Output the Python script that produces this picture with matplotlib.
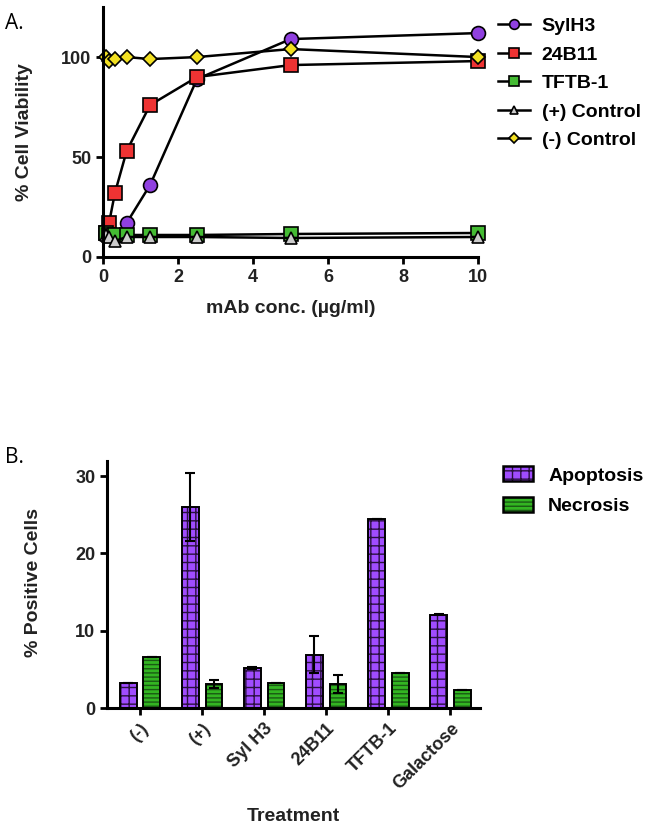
import matplotlib
matplotlib.use("Agg")
import matplotlib.pyplot as plt
import numpy as np
from matplotlib.lines import Line2D
from matplotlib.patches import Patch

# ---- Data -------------------------------------------------------------

conc = [0.078, 0.156, 0.3125, 0.625, 1.25, 2.5, 5, 10]
sylh3 = [11, 11, 10, 17, 36, 89, 109, 112]
ab24b11 = [12, 17, 32, 53, 76, 90, 96, 98]
tftb1 = [12, 11, 11, 11, 11, 11, 11.5, 12]
pos_ctrl = [11, 10, 8, 10, 10, 10, 9.5, 10]
neg_ctrl = [100, 98, 99, 100, 99, 100, 104, 100]

treatments = ["(-)", "(+)", "Syl H3", "24B11", "TFTB-1", "Galactose"]
apoptosis = [3.2, 26.0, 5.2, 6.9, 24.4, 12.1]
apoptosis_err = [0, 4.4, 0.1, 2.4, 0, 0.1]
necrosis = [6.6, 3.1, 3.3, 3.1, 4.5, 2.3]
necrosis_err = [0, 0.5, 0, 1.2, 0, 0]

# ---- Style ------------------------------------------------------------

DARK = "#222222"
PURPLE = "#a04cff"
GREEN = "#33b522"
plt.rcParams.update({
    "font.family": ["Liberation Sans", "DejaVu Sans"],
    "font.weight": "bold",
    "font.size": 14,
    "axes.labelweight": "bold",
    "axes.linewidth": 2.2,
    "axes.edgecolor": "black",
    "xtick.major.width": 2.0,
    "ytick.major.width": 2.0,
    "xtick.major.size": 5,
    "ytick.major.size": 5,
    "xtick.labelsize": 13,
    "ytick.labelsize": 13,
    "xtick.color": "black",
    "ytick.color": "black",
    "xtick.labelcolor": DARK,
    "ytick.labelcolor": DARK,
    "hatch.linewidth": 1.0,
})

fig = plt.figure(figsize=(6.49, 8.33), dpi=100)

# ---- Panel A ----------------------------------------------------------

axA = fig.add_axes([0.159, 0.6915, 0.578, 0.300])
series = [
    ("SylH3", sylh3, "o", "#9040e0", 10),
    ("24B11", ab24b11, "s", "#ee3333", 9.5),
    ("TFTB-1", tftb1, "s", "#44bb33", 9.5),
    ("(+) Control", pos_ctrl, "^", "#cccccc", 9),
    ("(-) Control", neg_ctrl, "D", "#f2e022", 7),
]
handles = []
for name, vals, mk, col, ms in series:
    axA.plot(conc, vals, color="black", linewidth=1.8, marker=mk,
             markersize=ms, markerfacecolor=col, markeredgecolor="black",
             markeredgewidth=1.2, clip_on=False)
    handles.append(Line2D([], [], color="black", linewidth=1.8, marker=mk,
                          markersize=ms * 0.7, markerfacecolor=col,
                          markeredgecolor="black", markeredgewidth=1.2))
axA.set_xlim(0, 10)
axA.set_ylim(0, 125)
axA.set_xticks([0, 2, 4, 6, 8, 10])
axA.set_yticks([0, 50, 100])
for s in ("top", "right"):
    axA.spines[s].set_visible(False)
axA.set_xlabel("mAb conc. (\u00b5g/ml)", color=DARK, fontweight="bold")
axA.set_ylabel("% Cell Viability", color=DARK, fontweight="bold")
axA.xaxis.set_label_coords(0.5, -0.172)
axA.yaxis.set_label_coords(-0.187, 0.5)
fig.legend(handles, [s[0] for s in series], loc="upper left",
           bbox_to_anchor=(498 / 649, 0.979), bbox_transform=fig.transFigure,
           frameon=False, handlelength=1.65, handletextpad=0.6,
           labelspacing=0.56, borderpad=0, borderaxespad=0)
fig.text(0.008, 0.972, "A.", fontsize=15, fontweight="normal", ha="left", va="center",
         family=["Open Sans", "DejaVu Sans"])

# ---- Panel B ----------------------------------------------------------

axB = fig.add_axes([0.165, 0.150, 0.575, 0.297])
x = np.arange(len(treatments))
w = 0.27
off = 0.19
# hatch drawn in a darker shade, outline in black on top
axB.bar(x - off, apoptosis, w, color=PURPLE, edgecolor="#2a1040", linewidth=0,
        hatch="++", zorder=2)
axB.bar(x - off, apoptosis, w, color="none", edgecolor="black", linewidth=1.4, zorder=2)
axB.bar(x + off, necrosis, w, color=GREEN, edgecolor="#1a5a14", linewidth=0,
        hatch="----", zorder=2)
axB.bar(x + off, necrosis, w, color="none", edgecolor="black", linewidth=1.4, zorder=2)
axB.errorbar(x - off, apoptosis, yerr=apoptosis_err, fmt="none", ecolor="black",
             elinewidth=1.5, capsize=3.5, capthick=1.5, zorder=3)
axB.errorbar(x + off, necrosis, yerr=necrosis_err, fmt="none", ecolor="black",
             elinewidth=1.5, capsize=3.5, capthick=1.5, zorder=3)
axB.set_xlim(-0.53, 5.48)
axB.set_ylim(0, 32)
axB.set_yticks([0, 10, 20, 30])
axB.set_xticks(x)
axB.set_xticklabels(treatments, rotation=45, ha="right", rotation_mode="anchor")
for s in ("top", "right"):
    axB.spines[s].set_visible(False)
axB.set_xlabel("Treatment", color=DARK, fontweight="bold")
axB.set_ylabel("% Positive Cells", color=DARK, fontweight="bold")
axB.xaxis.set_label_coords(0.5, -0.405)
axB.yaxis.set_label_coords(-0.174, 0.506)

leg_handles = [
    (Patch(facecolor=PURPLE, edgecolor="#2a1040", linewidth=0, hatch="++"),
     Patch(facecolor="none", edgecolor="black", linewidth=1.8)),
    (Patch(facecolor=GREEN, edgecolor="#1a5a14", linewidth=0, hatch="----"),
     Patch(facecolor="none", edgecolor="black", linewidth=1.8)),
]
fig.legend(leg_handles, ["Apoptosis", "Necrosis"], loc="upper left",
           bbox_to_anchor=(503 / 649, 0.440), bbox_transform=fig.transFigure,
           frameon=False, handlelength=1.55, handleheight=0.8, handletextpad=0.77,
           labelspacing=0.62, borderpad=0, borderaxespad=0)
fig.text(0.008, 0.451, "B.", fontsize=15, fontweight="normal", ha="left", va="center",
         family=["Open Sans", "DejaVu Sans"])

fig.savefig("out.png", dpi=100)
